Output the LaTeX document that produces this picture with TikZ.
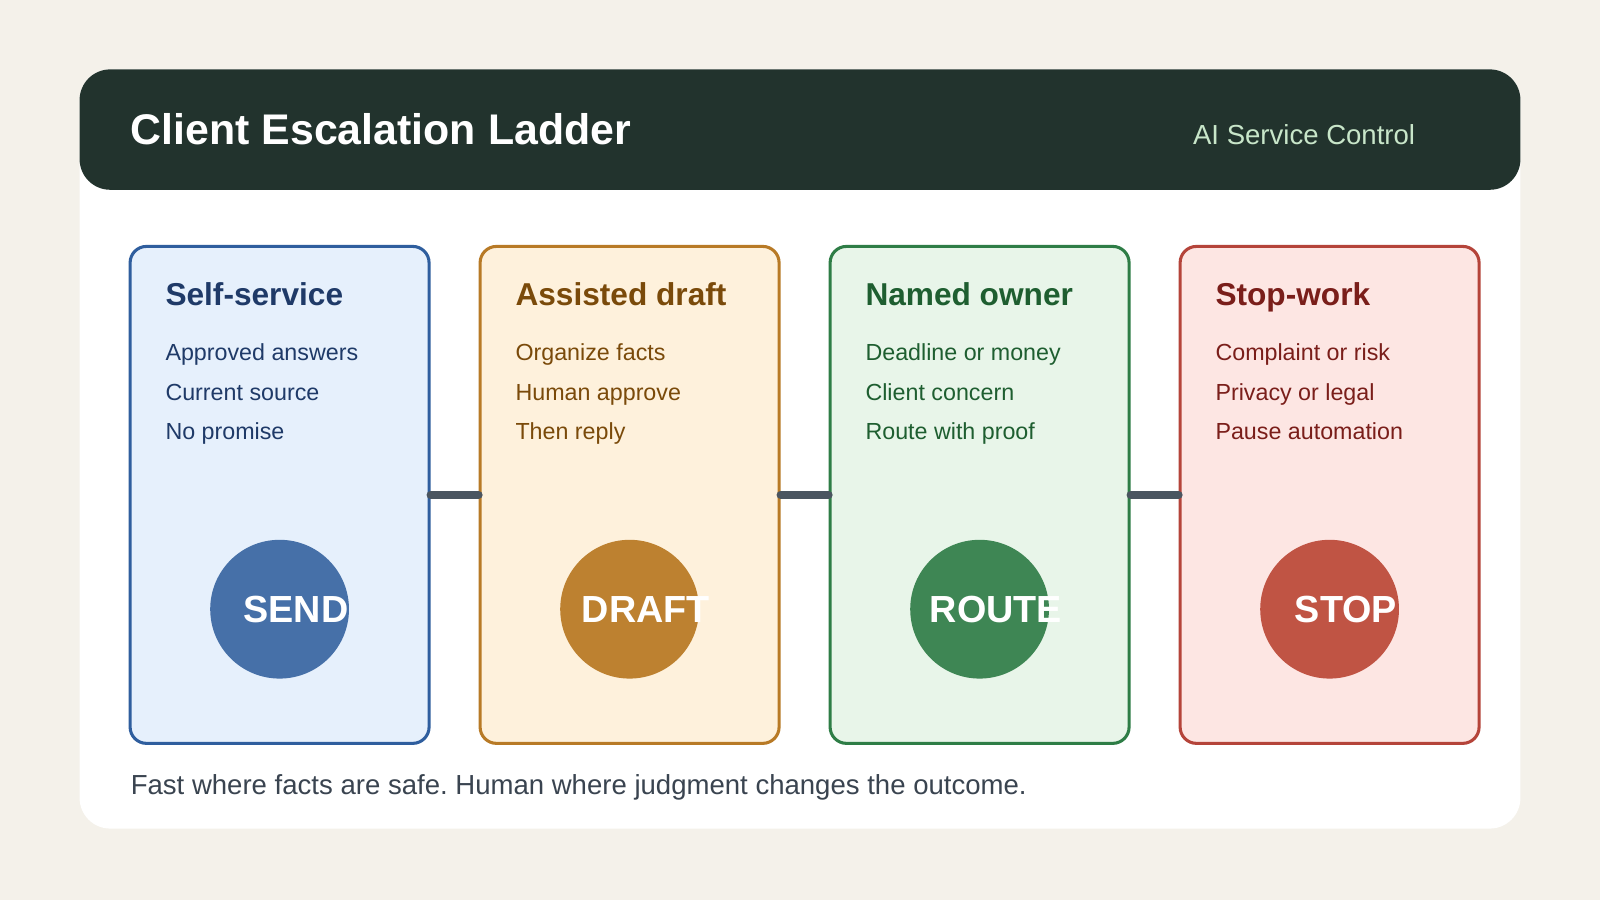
\documentclass[tikz,border=0pt]{standalone}
\usepackage{fontspec}
\setmainfont{Liberation Sans}
\usepackage{tikz}
\usetikzlibrary{positioning}
\frenchspacing
\definecolor{bgpage}{HTML}{F4F1EA}
\definecolor{headbg}{HTML}{22332D}
\definecolor{headsub}{HTML}{C8E6C9}
\definecolor{linkgray}{HTML}{4A5560}
\definecolor{foottext}{HTML}{3A4450}
\definecolor{bdA}{HTML}{2F5E9E}\definecolor{fiA}{HTML}{E6F0FC}\definecolor{txA}{HTML}{1F3A68}\definecolor{ciA}{HTML}{4670A8}
\definecolor{bdB}{HTML}{B87A26}\definecolor{fiB}{HTML}{FEF1DC}\definecolor{txB}{HTML}{7A4A0A}\definecolor{ciB}{HTML}{BD8130}
\definecolor{bdC}{HTML}{2E7D46}\definecolor{fiC}{HTML}{E8F5E9}\definecolor{txC}{HTML}{1E5E30}\definecolor{ciC}{HTML}{3E8654}
\definecolor{bdD}{HTML}{B5443A}\definecolor{fiD}{HTML}{FDE6E3}\definecolor{txD}{HTML}{7A1E1A}\definecolor{ciD}{HTML}{C05444}
\tikzset{
  card/.style={draw, line width=3pt, rounded corners=16pt, minimum width=293pt, minimum height=487pt, inner sep=0pt},
  badge/.style={circle, minimum size=136pt, inner sep=0pt},
  badgetext/.style={text=white, anchor=base, font=\fontsize{37}{40}\selectfont\bfseries},
  cardhead/.style={anchor=base west, font=\fontsize{31}{34}\selectfont\bfseries, inner sep=0pt},
  cardline/.style={anchor=base west, font=\fontsize{22.8}{26}\selectfont, inner sep=0pt},
  link/.style={linkgray, line width=8pt, line cap=round}
}
\begin{document}
\begin{tikzpicture}[x=1pt,y=-1pt]
  \fill[bgpage] (0,0) rectangle (1568,882);
  \useasboundingbox (0,0) rectangle (1568,882);
  \fill[white, rounded corners=30pt] (78,68) rectangle (1490,812);
  \fill[headbg, rounded corners=30pt] (78,68) rectangle (1490,186);
  \node[anchor=base west, inner sep=0pt, text=white, font=\fontsize{42}{46}\selectfont\bfseries] (title) at (128,142) {Client Escalation Ladder};
  \node[anchor=base east, inner sep=0pt, text=headsub, font=\fontsize{27}{30}\selectfont] (sub) at (1387,142) {AI Service Control};
  % the four rungs
  \foreach \i/\x/\k/\head/\la/\lb/\lc/\tag in {
    1/274/A/Self-service/Approved answers/Current source/No promise/SEND,
    2/617/B/Assisted draft/Organize facts/Human approve/Then reply/DRAFT,
    3/960/C/Named owner/Deadline or money/Client concern/Route with proof/ROUTE,
    4/1303/D/Stop-work/Complaint or risk/Privacy or legal/Pause automation/STOP}
  {
    \node[card, draw=bd\k, fill=fi\k] (c\i) at (\x,485) {};
    \node[cardhead, text=tx\k] (h\i) at (\x-112,299) {\head};
    \node[cardline, text=tx\k] (la\i) at (\x-112,353) {\la};
    \node[cardline, text=tx\k] (lb\i) at (\x-112,392) {\lb};
    \node[cardline, text=tx\k] (lc\i) at (\x-112,431) {\lc};
    \node[badge, fill=ci\k] (b\i) at (\x,597) {};
    \node[badgetext] (t\i) at (\x+16,610) {\tag};
  }
  \draw[link] (c1.east) -- (c2.west);
  \draw[link] (c2.east) -- (c3.west);
  \draw[link] (c3.east) -- (c4.west);
  \node[anchor=base west, inner sep=0pt, text=foottext, font=\fontsize{27}{30}\selectfont] (foot) at (128,779) {Fast where facts are safe. Human where judgment changes the outcome.};
\end{tikzpicture}
\end{document}
